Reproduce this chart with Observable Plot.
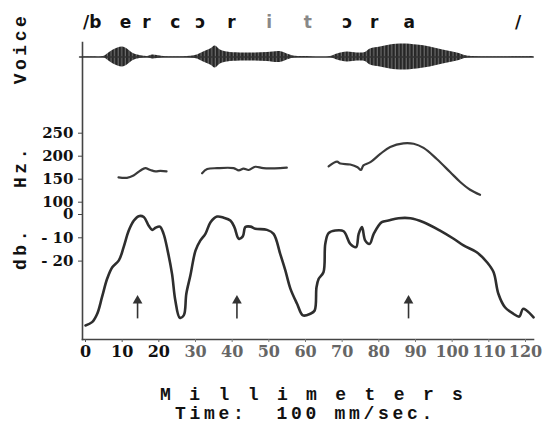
<!DOCTYPE html>
<html><head><meta charset="utf-8">
<script src="https://cdn.jsdelivr.net/npm/d3@7"></script>
<script src="https://cdn.jsdelivr.net/npm/@observablehq/plot@0.6"></script>
<style>
html,body{margin:0;padding:0;background:#fff;}
#chart{position:relative;width:559px;height:425px;overflow:hidden;background:#fff;}
#chart svg{position:absolute;top:0;left:0;}
</style></head><body>
<svg width="0" height="0" style="position:absolute">
  <defs>
    <pattern id="osc" patternUnits="userSpaceOnUse" width="3.6" height="6">
      <rect x="0" y="0" width="3.6" height="6" fill="#6a6a6a"></rect>
      <rect x="0" y="0" width="2.4" height="6" fill="#262626"></rect>
    </pattern>
  </defs>
</svg>
<div id="chart"></div>
<script>
// ---- data ----
const phonemes   = ["/", "b", "e", "r", "c", "ɔ", "r", "i", "t", "ɔ", "r", "a", "/"];
const phonemeMm  = [0.2, 2.7, 10.9, 16.6, 24.5, 31.3, 39.8, 50.1, 60.6, 71.4, 78.7, 88.3, 118.0];

const voiceMm  = [-1.6, 4.9, 6.0, 7.6, 10.1, 11.4, 12.8, 14.2, 15.5, 16.9, 18.3, 19.6, 21.3, 27.8, 30.5, 32.2, 34.1, 35.4, 36.8, 38.7, 42.2, 45.8, 49.6, 53.1, 55.0, 56.7, 59.4, 66.8, 68.7, 71.4, 74.1, 76.3, 77.7, 80.4, 83.1, 86.6, 90.5, 94.0, 97.5, 101.4, 104.1, 105.7, 122.1];
const voiceAmp = [0, 0.5, 3, 7, 10, 8, 4, 2, 1, 0.5, 2, 1.5, 0.5, 0.5, 2, 5, 8, 11, 7, 5, 4, 4, 4.5, 5.5, 3, 1, 0.5, 0.5, 3, 5, 4, 4.5, 8, 10, 12, 13, 12, 10, 7, 4, 1, 0.5, 0.5];

const f0Segment = [1,1,1,1,1,1,1,1,1, 2,2,2,2,2,2,2,2,2,2,2, 3,3,3,3,3,3,3,3,3,3,3,3,3,3,3,3,3,3];
const f0Mm = [9.0, 11.3, 13.1, 15.0, 16.3, 17.7, 19.1, 20.4, 22.1,
              31.8, 33.2, 35.9, 40.4, 41.8, 43.1, 44.5, 46.3, 48.5, 53.1, 54.9,
              66.3, 68.6, 69.5, 72.2, 74.2, 75.1, 75.8, 77.7, 80.4, 83.1, 86.7, 89.5, 92.2, 95.8, 99.5, 102.2, 104.9, 107.6];
const f0Hz = [154, 153, 158, 169, 174, 170, 167, 168, 167,
              163, 172, 174, 174, 169, 173, 170, 177, 174, 174, 175,
              178, 188, 184, 182, 176, 170, 180, 187, 205, 220, 228, 227, 218, 194, 165, 144, 127, 116];

const dbMm = [0, 1.8, 3.2, 4.5, 5.9, 7.3, 9.1, 10.4, 11.8, 13.2, 14.5, 15.9, 17.2, 18.2, 19.1, 20.3, 21.3, 22.4, 23.6, 24.5, 25.7, 26.8, 27.5, 28.6, 30.0, 31.3, 32.7, 34.1, 35.9, 37.7, 39.5, 40.6, 41.8, 42.9, 43.6, 45.0, 46.3, 49.5, 51.3, 53.1, 54.5, 55.9, 57.7, 59.3, 61.3, 62.5, 63.0, 63.6, 64.9, 65.4, 66.3, 68.1, 70.4, 72.2, 73.8, 74.5, 75.4, 76.3, 77.5, 78.6, 80.8, 82.6, 85.4, 88.6, 92.2, 96.7, 100.4, 103.1, 106.7, 109.5, 111.3, 112.6, 114.4, 116.7, 118.3, 119.3, 120.3, 122.2];
const dbLevel = [-47.6, -46.2, -42.6, -35.5, -27.6, -22.6, -19.7, -14, -6.9, -2.6, -0.7, -1.1, -4.7, -6.6, -5.7, -5.2, -8.3, -15.5, -25.5, -36.9, -44.3, -43.3, -34, -26.2, -15.5, -11.2, -8.3, -3.3, -0.9, -1.4, -2.6, -5.4, -10.4, -9.4, -5.4, -5.2, -6.1, -6.6, -8.3, -16.9, -24, -31.9, -38.3, -43.3, -42.6, -41.2, -31.2, -27.6, -24.8, -12.6, -8, -6.9, -7.2, -12.6, -14, -8.3, -5.4, -11.2, -12.6, -8.3, -3.3, -2.6, -1.6, -1.6, -3.3, -6.9, -10.4, -13.3, -16.2, -20.5, -24.8, -34, -39.8, -42.6, -43.8, -40.5, -41.2, -44.1];

const stressMm = [14.2, 41.3, 88.1];

const xTicks  = [0, 10, 20, 30, 40, 50, 60, 70, 80, 90, 100, 110, 120];
const hzTicks = [100, 150, 200, 250];
const dbTicks = [0, -10, -20];

// ---- tables ----
const voice = voiceMm.map((mm, i) => ({mm, amp: voiceAmp[i]}));
const f0 = f0Mm.map((mm, i) => ({mm, hz: f0Hz[i], seg: f0Segment[i]}));
const level = dbMm.map((mm, i) => ({mm, db: dbLevel[i]}));
const segs = phonemes.map((p, i) => ({p, mm: phonemeMm[i], i}));

// ---- layout ----
const W = 559, H = 425, ML = 82, MR = 26, MT = 42, MB = 86;
const xOpt = () => ({domain: [0, 120], range: [85, 525], axis: null, label: null});
const serifX = {fontFamily: "DejaVu Serif", fontWeight: "bold", fontSize: 16};
const serifY = {fontFamily: "DejaVu Serif", fontWeight: "bold", fontSize: 15};
const mono = "Liberation Mono";
const ink = "#2e2e2e";
const common = {width: W, height: H, marginLeft: ML, marginRight: MR, marginTop: MT, marginBottom: MB,
  style: {background: "transparent", overflow: "visible", color: "#222"}};

const dbAxisFmt = d => d === 0 ? "0" : "- " + Math.abs(d);
const sideLabel = (label, dy) => Plot.text([label], {text: d => d, frameAnchor: "top-left", dx: -62, dy, rotate: -90,
  textAnchor: "middle", lineAnchor: "middle", fontFamily: mono, fontWeight: "bold", fontSize: 18, fill: "#111"});

const main = Plot.plot({
  ...common,
  x: xOpt(),
  y: {domain: [0, -20], range: [214, 260.6], axis: null, label: null},
  marks: [
    Plot.frame({anchor: "left", stroke: "#444", strokeWidth: 1.6}),
    Plot.frame({anchor: "bottom", stroke: "#444", strokeWidth: 1.6}),
    Plot.axisX(xTicks.filter(t => t <= 20), {...serifX, fill: "#111", stroke: "#555", tickSize: 3, tickPadding: 3}),
    Plot.axisX(xTicks.filter(t => t > 20), {...serifX, fill: "#666", stroke: "#777", tickSize: 3, tickPadding: 3}),
    Plot.axisY(dbTicks, {...serifY, fill: "#111", stroke: "#444", tickSize: 4, tickPadding: 5, tickFormat: dbAxisFmt}),
    Plot.line(level, {x: "mm", y: "db", stroke: ink, strokeWidth: 2.6, curve: "catmull-rom", clip: false}),
    Plot.ruleX(stressMm, {x: d => d, y1: -44.8, y2: -37.5, stroke: "#333", strokeWidth: 1.6}),
    Plot.dot(stressMm, {x: d => d, y: -37.0, symbol: "triangle", r: 3.6, fill: "#333", stroke: "none"}),
    sideLabel("Voice", 6),
    sideLabel("Hz.", 124),
    sideLabel("db.", 206),
    Plot.text(["Millimeters"], {text: d => d, frameAnchor: "bottom", dx: 12.7, dy: 55,
      textAnchor: "middle", lineAnchor: "middle", fontFamily: mono, fontWeight: "bold", fontSize: 18, fill: "#111"}),
    Plot.text(["Time:  100 mm/sec."], {text: d => d, frameAnchor: "bottom", dx: -2.6, dy: 74,
      textAnchor: "middle", lineAnchor: "middle", fontFamily: mono, fontWeight: "bold", fontSize: 18, fill: "#111"})
  ]
});

const pitch = Plot.plot({
  ...common,
  x: xOpt(),
  y: {domain: [100, 250], range: [201.7, 132.7], axis: null, label: null},
  marks: [
    Plot.axisY(hzTicks, {...serifY, fill: "#111", stroke: "#444", tickSize: 4, tickPadding: 5}),
    Plot.line(f0, {x: "mm", y: "hz", z: "seg", stroke: "#3a3a3a", strokeWidth: 2.2, curve: "catmull-rom"})
  ]
});

const faint = new Set([7, 8]);
const wave = Plot.plot({
  ...common,
  marginTop: 0,
  marginBottom: 0,
  x: xOpt(),
  y: {domain: [-15, 15], range: [71.5, 41.5], axis: null, label: null},
  marks: [
    Plot.areaY(voice, {x: "mm", y1: d => -d.amp, y2: "amp", fill: "url(#osc)", curve: "catmull-rom"}),
    Plot.line(voice, {x: "mm", y: () => 0, stroke: "#333", strokeWidth: 1.6}),
    Plot.text(segs, {x: "mm", text: "p", frameAnchor: "top", dy: 22, lineAnchor: "middle",
      fontFamily: "DejaVu Sans", fontWeight: "bold", fontSize: 17,
      fill: d => faint.has(d.i) ? "#888" : "#111"})
  ]
});

const chart = document.getElementById("chart");
chart.append(main, pitch, wave);

// letter spacing of the typewritten titles
const spacing = {"Voice": "3.5px", "Hz.": "3.5px", "db.": "3.5px", "Millimeters": "18.4px", "Time:  100 mm/sec.": "3.7px"};
d3.selectAll("#chart text").each(function () {
  const t = this.textContent;
  if (spacing[t]) this.style.letterSpacing = spacing[t];
});
</script></body></html>
